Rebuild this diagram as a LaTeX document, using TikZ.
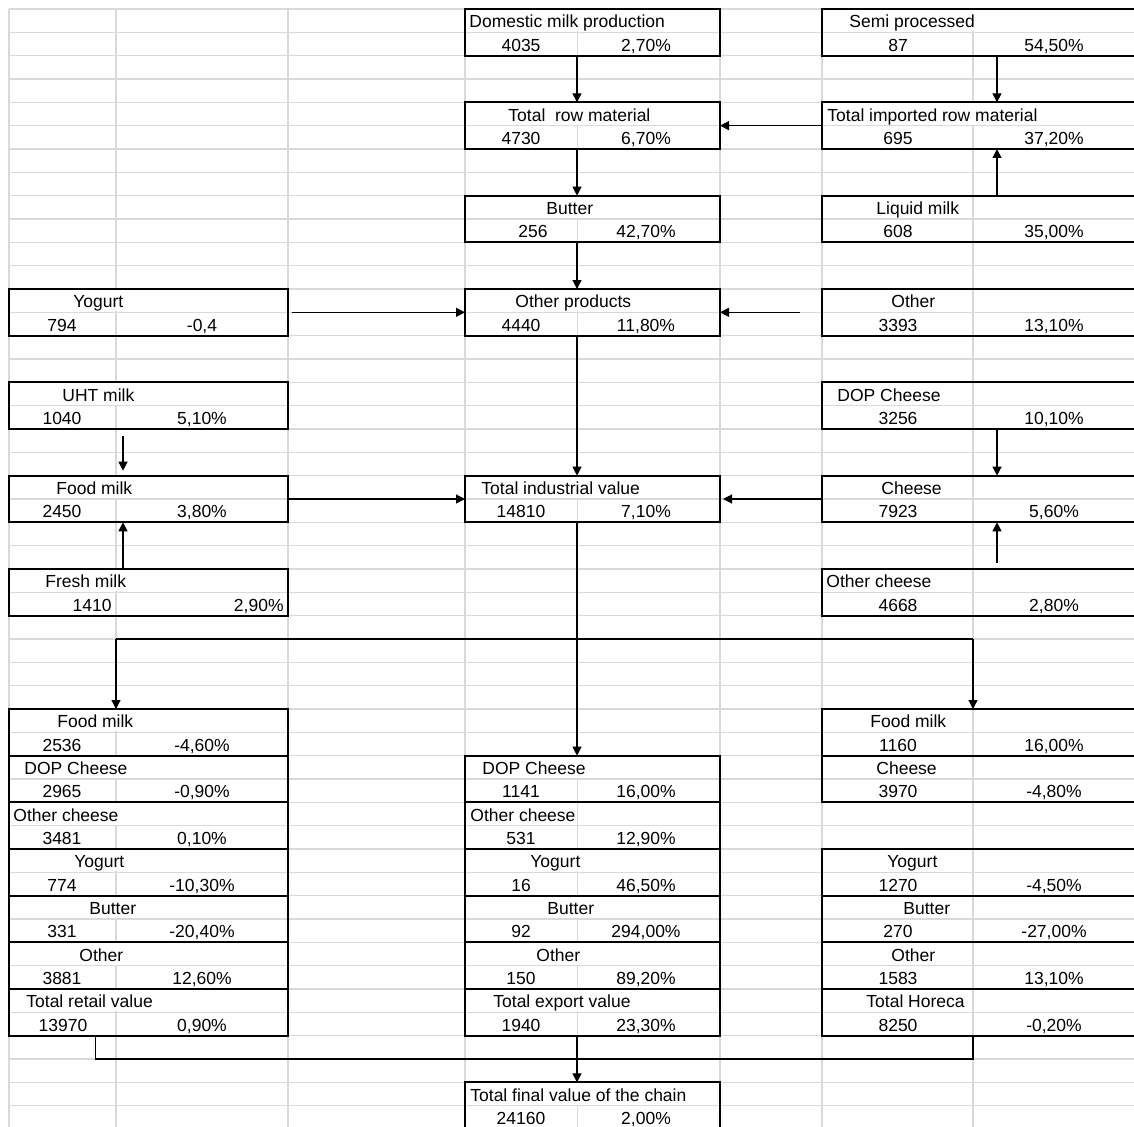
\documentclass[tikz,border=0pt]{standalone}
\usepackage{fontspec}
\setmainfont{Liberation Sans}
\usetikzlibrary{arrows.meta}
\tikzset{gridline/.style={draw=black!15,line width=0.75pt},
         cell/.style={draw,line width=1pt,inner sep=0pt,outer sep=0pt,anchor=north west,minimum height=23.33pt},
         ab/.style={cell,minimum width=139.5pt},
         de/.style={cell,minimum width=127.5pt},
         gh/.style={cell,minimum width=164pt},
         ttl/.style={anchor=base west,inner sep=0pt,fill=white,text height=9pt,text depth=1.8pt},
         val/.style={anchor=base,inner sep=0pt},
         arr/.style={-{Triangle[length=4.5pt,width=4.5pt]},line width=0.6pt},
         link/.style={line width=0.6pt}}

\begin{document}
\begin{tikzpicture}
        [x=0.5pt,y=-0.5pt,every node/.style={font=\fontsize{8.75}{10}\selectfont}]
        % one unit is one pixel of the sheet, y grows downwards
        \useasboundingbox (0,0) rectangle (1134,1126);

        % sheet grid
        \foreach \c in {9,116,288,465,577.5,720,822,973}
          \draw[gridline] (\c,9) -- (\c,1130);
        \foreach \k in {0,...,48}
          \draw[gridline] (9,9+23.333*\k) -- (1140,9+23.333*\k);

        % raw material
        \node[de] (dom) at (465,9) {};
        \node[ttl] (dom-t) at (469,27.8) {Domestic milk production};
        \node[val] (dom-n) at (521,51.2) {4035};
        \node[val] (dom-p) at (646,51.2) {2,70\%};
        \node[gh] (semi) at (822,9) {};
        \node[ttl] (semi-t) at (849,27.8) {Semi processed};
        \node[val] (semi-n) at (898,51.2) {87};
        \node[val] (semi-p) at (1054,51.2) {54,50\%};
        \node[de] (raw) at (465,102.33) {};
        \node[ttl] (raw-t) at (508,121.2) {Total\ \ row material};
        \node[val] (raw-n) at (521,144.5) {4730};
        \node[val] (raw-p) at (646,144.5) {6,70\%};
        \node[gh] (imp) at (822,102.33) {};
        \node[ttl] (imp-t) at (827,121.2) {Total imported row material};
        \node[val] (imp-n) at (898,144.5) {695};
        \node[val] (imp-p) at (1054,144.5) {37,20\%};
        \node[de] (butter) at (465,195.67) {};
        \node[ttl] (butter-t) at (546,214.5) {Butter};
        \node[val] (butter-n) at (533,237.8) {256};
        \node[val] (butter-p) at (646,237.8) {42,70\%};
        \node[gh] (liquid) at (822,195.67) {};
        \node[ttl] (liquid-t) at (876,214.5) {Liquid milk};
        \node[val] (liquid-n) at (898,237.8) {608};
        \node[val] (liquid-p) at (1054,237.8) {35,00\%};

        % industry
        \node[ab] (yog) at (9,289) {};
        \node[ttl] (yog-t) at (73,307.8) {Yogurt};
        \node[val] (yog-n) at (62,331.2) {794};
        \node[val] (yog-p) at (202,331.2) {-0,4};
        \node[de] (oprod) at (465,289) {};
        \node[ttl] (oprod-t) at (515,307.8) {Other products};
        \node[val] (oprod-n) at (521,331.2) {4440};
        \node[val] (oprod-p) at (646,331.2) {11,80\%};
        \node[gh] (other) at (822,289) {};
        \node[ttl] (other-t) at (891,307.8) {Other};
        \node[val] (other-n) at (898,331.2) {3393};
        \node[val] (other-p) at (1054,331.2) {13,10\%};
        \node[ab] (uht) at (9,382.33) {};
        \node[ttl] (uht-t) at (62,401.2) {UHT milk};
        \node[val] (uht-n) at (62,424.5) {1040};
        \node[val] (uht-p) at (202,424.5) {5,10\%};
        \node[gh] (dop) at (822,382.33) {};
        \node[ttl] (dop-t) at (837,401.2) {DOP Cheese};
        \node[val] (dop-n) at (898,424.5) {3256};
        \node[val] (dop-p) at (1054,424.5) {10,10\%};
        \node[ab] (food) at (9,475.67) {};
        \node[ttl] (food-t) at (56,494.5) {Food milk};
        \node[val] (food-n) at (62,517.8) {2450};
        \node[val] (food-p) at (202,517.8) {3,80\%};
        \node[de] (ind) at (465,475.67) {};
        \node[ttl] (ind-t) at (481,494.5) {Total industrial value};
        \node[val] (ind-n) at (521,517.8) {14810};
        \node[val] (ind-p) at (646,517.8) {7,10\%};
        \node[gh] (cheese) at (822,475.67) {};
        \node[ttl] (cheese-t) at (881,494.5) {Cheese};
        \node[val] (cheese-n) at (898,517.8) {7923};
        \node[val] (cheese-p) at (1054,517.8) {5,60\%};
        \node[ab] (fresh) at (9,569) {};
        \node[ttl] (fresh-t) at (45,587.8) {Fresh milk};
        \node[val,anchor=base east] (fresh-n) at (112,611.2) {1410};
        \node[val,anchor=base east] (fresh-p) at (284,611.2) {2,90\%};
        \node[gh] (ocheese) at (822,569) {};
        \node[ttl] (ocheese-t) at (826,587.8) {Other cheese};
        \node[val] (ocheese-n) at (898,611.2) {4668};
        \node[val] (ocheese-p) at (1054,611.2) {2,80\%};

        % retail
        \node[ab] (rfood) at (9,709) {};
        \node[ttl] (rfood-t) at (57,727.8) {Food milk};
        \node[val] (rfood-n) at (62,751.2) {2536};
        \node[val] (rfood-p) at (202,751.2) {-4,60\%};
        \node[ab] (rdop) at (9,755.67) {};
        \node[ttl] (rdop-t) at (24,774.5) {DOP Cheese};
        \node[val] (rdop-n) at (62,797.8) {2965};
        \node[val] (rdop-p) at (202,797.8) {-0,90\%};
        \node[ab] (rocheese) at (9,802.33) {};
        \node[ttl] (rocheese-t) at (13,821.2) {Other cheese};
        \node[val] (rocheese-n) at (62,844.5) {3481};
        \node[val] (rocheese-p) at (202,844.5) {0,10\%};
        \node[ab] (ryog) at (9,849) {};
        \node[ttl] (ryog-t) at (74,867.8) {Yogurt};
        \node[val] (ryog-n) at (62,891.2) {774};
        \node[val] (ryog-p) at (202,891.2) {-10,30\%};
        \node[ab] (rbutter) at (9,895.67) {};
        \node[ttl] (rbutter-t) at (89,914.5) {Butter};
        \node[val] (rbutter-n) at (62,937.8) {331};
        \node[val] (rbutter-p) at (202,937.8) {-20,40\%};
        \node[ab] (rother) at (9,942.33) {};
        \node[ttl] (rother-t) at (79,961.2) {Other};
        \node[val] (rother-n) at (62,984.5) {3881};
        \node[val] (rother-p) at (202,984.5) {12,60\%};
        \node[ab] (rtot) at (9,989) {};
        \node[ttl] (rtot-t) at (26,1007.8) {Total retail value};
        \node[val] (rtot-n) at (63,1031.2) {13970};
        \node[val] (rtot-p) at (202,1031.2) {0,90\%};

        % export
        \node[de] (xdop) at (465,755.67) {};
        \node[ttl] (xdop-t) at (482,774.5) {DOP Cheese};
        \node[val] (xdop-n) at (521,797.8) {1141};
        \node[val] (xdop-p) at (646,797.8) {16,00\%};
        \node[de] (xocheese) at (465,802.33) {};
        \node[ttl] (xocheese-t) at (470,821.2) {Other cheese};
        \node[val] (xocheese-n) at (521,844.5) {531};
        \node[val] (xocheese-p) at (646,844.5) {12,90\%};
        \node[de] (xyog) at (465,849) {};
        \node[ttl] (xyog-t) at (530,867.8) {Yogurt};
        \node[val] (xyog-n) at (521,891.2) {16};
        \node[val] (xyog-p) at (646,891.2) {46,50\%};
        \node[de] (xbutter) at (465,895.67) {};
        \node[ttl] (xbutter-t) at (547,914.5) {Butter};
        \node[val] (xbutter-n) at (521,937.8) {92};
        \node[val] (xbutter-p) at (646,937.8) {294,00\%};
        \node[de] (xother) at (465,942.33) {};
        \node[ttl] (xother-t) at (536,961.2) {Other};
        \node[val] (xother-n) at (521,984.5) {150};
        \node[val] (xother-p) at (646,984.5) {89,20\%};
        \node[de] (xtot) at (465,989) {};
        \node[ttl] (xtot-t) at (493,1007.8) {Total export value};
        \node[val] (xtot-n) at (521,1031.2) {1940};
        \node[val] (xtot-p) at (646,1031.2) {23,30\%};

        % horeca
        \node[gh] (hfood) at (822,709) {};
        \node[ttl] (hfood-t) at (870,727.8) {Food milk};
        \node[val] (hfood-n) at (898,751.2) {1160};
        \node[val] (hfood-p) at (1054,751.2) {16,00\%};
        \node[gh] (hcheese) at (822,755.67) {};
        \node[ttl] (hcheese-t) at (876,774.5) {Cheese};
        \node[val] (hcheese-n) at (898,797.8) {3970};
        \node[val] (hcheese-p) at (1054,797.8) {-4,80\%};
        \node[gh] (hyog) at (822,849) {};
        \node[ttl] (hyog-t) at (887,867.8) {Yogurt};
        \node[val] (hyog-n) at (898,891.2) {1270};
        \node[val] (hyog-p) at (1054,891.2) {-4,50\%};
        \node[gh] (hbutter) at (822,895.67) {};
        \node[ttl] (hbutter-t) at (903,914.5) {Butter};
        \node[val] (hbutter-n) at (898,937.8) {270};
        \node[val] (hbutter-p) at (1054,937.8) {-27,00\%};
        \node[gh] (hother) at (822,942.33) {};
        \node[ttl] (hother-t) at (891,961.2) {Other};
        \node[val] (hother-n) at (898,984.5) {1583};
        \node[val] (hother-p) at (1054,984.5) {13,10\%};
        \node[gh] (htot) at (822,989) {};
        \node[ttl] (htot-t) at (866,1007.8) {Total Horeca};
        \node[val] (htot-n) at (898,1031.2) {8250};
        \node[val] (htot-p) at (1054,1031.2) {-0,20\%};

        \node[de] (final) at (465,1082.33) {};
        \node[ttl] (final-t) at (470,1101.2) {Total final value of the chain};
        \node[val] (final-n) at (521,1124.5) {24160};
        \node[val] (final-p) at (646,1124.5) {2,00\%};

        % columns the arrows run along
        \coordinate (cD) at (577,0);
        \coordinate (cR) at (997,0);
        \coordinate (cL) at (123,0);
        \coordinate (cA) at (116,0);
        \coordinate (cG) at (973,0);
        \coordinate (cJ) at (95.5,0);
        \coordinate (split) at (577,639);
        \coordinate (join) at (577,1059);

        \draw[arr] (dom.south -| cD) -- (raw.north -| cD);
        \draw[arr] (raw.south -| cD) -- (butter.north -| cD);
        \draw[arr] (butter.south -| cD) -- (oprod.north -| cD);
        \draw[arr] (semi.south -| cR) -- (imp.north -| cR);
        \draw[arr] (liquid.north -| cR) -- (imp.south -| cR);
        \draw[arr] (imp.west) -- (raw.east);
        \draw[arr,shorten <=2pt] (yog.east) -- (oprod.west);
        \draw[arr,shorten <=11pt] (other.west) -- (oprod.east);
        \draw[arr] (oprod.south -| cD) -- (ind.north -| cD);
        \draw[arr,shorten <=3.5pt,shorten >=2.5pt] (uht.south -| cL) -- (food.north -| cL);
        \draw[arr] (fresh.north -| cL) -- (food.south -| cL);
        \draw[arr] (food.east) -- (ind.west);
        \draw[arr,shorten >=1.5pt] (cheese.west) -- (ind.east);
        \draw[arr] (dop.south -| cR) -- (cheese.north -| cR);
        \draw[arr,shorten <=3pt] (ocheese.north -| cR) -- (cheese.south -| cR);

        \draw[arr] (ind.south -| cD) -- (xdop.north -| cD);
        \draw[link] (split -| cA) -- (split -| cG);
        \draw[arr] (split -| cA) -- (rfood.north -| cA);
        \draw[arr] (split -| cG) -- (hfood.north -| cG);

        \draw[link] (rtot.south -| cJ) -- (join -| cJ) -- (join -| cG) -- (htot.south -| cG);
        \draw[arr] (xtot.south -| cD) -- (final.north -| cD);

      \end{tikzpicture}
\end{document}
